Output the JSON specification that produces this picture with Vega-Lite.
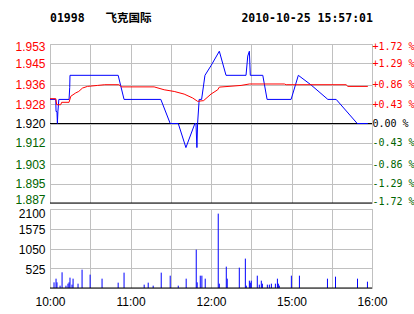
{
  "$schema": "https://vega.github.io/schema/vega-lite/v6.json",
  "background": "#ffffff",
  "padding": {"left": 14, "top": 12, "right": 0, "bottom": 0},
  "bounds": "flush",
  "spacing": 6,
  "datasets": {
    "price": [
      {"t": 0, "p": 1.930}, {"t": 4.3, "p": 1.930}, {"t": 4.5, "p": 1.925}, {"t": 5.2, "p": 1.925},
      {"t": 5.5, "p": 1.920}, {"t": 5.9, "p": 1.925}, {"t": 6.6, "p": 1.930}, {"t": 14.2, "p": 1.930},
      {"t": 14.7, "p": 1.935}, {"t": 14.9, "p": 1.940}, {"t": 50.8, "p": 1.940}, {"t": 55.2, "p": 1.930},
      {"t": 82.6, "p": 1.930}, {"t": 89.6, "p": 1.920}, {"t": 95.6, "p": 1.920}, {"t": 101.3, "p": 1.910},
      {"t": 108.0, "p": 1.920}, {"t": 108.8, "p": 1.920}, {"t": 109.5, "p": 1.910}, {"t": 110.0, "p": 1.920},
      {"t": 111.2, "p": 1.930}, {"t": 113.0, "p": 1.930}, {"t": 114.5, "p": 1.936}, {"t": 115.5, "p": 1.940},
      {"t": 120.0, "p": 1.944}, {"t": 126.2, "p": 1.950}, {"t": 131.2, "p": 1.940}, {"t": 146.1, "p": 1.940},
      {"t": 147.4, "p": 1.948}, {"t": 148.6, "p": 1.950}, {"t": 149.3, "p": 1.940}, {"t": 158.6, "p": 1.940},
      {"t": 161.8, "p": 1.930}, {"t": 179.7, "p": 1.930}, {"t": 185.1, "p": 1.940}, {"t": 194.6, "p": 1.936},
      {"t": 207.1, "p": 1.930}, {"t": 213.3, "p": 1.930}, {"t": 229.0, "p": 1.920}, {"t": 236.9, "p": 1.920}
    ],
    "avg": [
      {"t": 0, "a": 1.9303}, {"t": 4.3, "a": 1.9303}, {"t": 5.0, "a": 1.9278}, {"t": 8.0, "a": 1.9278},
      {"t": 8.7, "a": 1.9288}, {"t": 14.2, "a": 1.9288}, {"t": 15.5, "a": 1.9313}, {"t": 19.2, "a": 1.9327},
      {"t": 21.4, "a": 1.9333}, {"t": 24.2, "a": 1.9347}, {"t": 27.9, "a": 1.9354}, {"t": 35.4, "a": 1.9358},
      {"t": 40.8, "a": 1.9361}, {"t": 51.3, "a": 1.9361}, {"t": 53.5, "a": 1.9352}, {"t": 77.6, "a": 1.9352},
      {"t": 85.1, "a": 1.9340}, {"t": 92.6, "a": 1.9333}, {"t": 100.0, "a": 1.9322}, {"t": 106.3, "a": 1.9306},
      {"t": 110.0, "a": 1.9292}, {"t": 114.5, "a": 1.9295}, {"t": 120.0, "a": 1.9322}, {"t": 125.0, "a": 1.9340},
      {"t": 126.2, "a": 1.9351}, {"t": 142.4, "a": 1.9358}, {"t": 148.6, "a": 1.9364}, {"t": 174.7, "a": 1.9364},
      {"t": 176.0, "a": 1.9361}, {"t": 220.7, "a": 1.9361}, {"t": 222.0, "a": 1.9354}, {"t": 236.9, "a": 1.9354}
    ],
    "refs": [{"y": 1.92}, {"y": 1.887}],
    "vol": [
      {"t": 3.0, "v": 150}, {"t": 4.5, "v": 248}, {"t": 5.2, "v": 150}, {"t": 7.5, "v": 62},
      {"t": 9.0, "v": 417}, {"t": 11.9, "v": 62}, {"t": 13.4, "v": 115}, {"t": 14.2, "v": 150},
      {"t": 14.9, "v": 275}, {"t": 16.4, "v": 89}, {"t": 17.2, "v": 248}, {"t": 20.9, "v": 115},
      {"t": 23.9, "v": 488}, {"t": 29.9, "v": 355}, {"t": 38.8, "v": 248}, {"t": 50.8, "v": 142},
      {"t": 55.2, "v": 408}, {"t": 70.2, "v": 89}, {"t": 73.2, "v": 142}, {"t": 76.9, "v": 62},
      {"t": 82.9, "v": 408}, {"t": 89.6, "v": 328}, {"t": 95.6, "v": 62}, {"t": 101.5, "v": 248},
      {"t": 109.0, "v": 1020}, {"t": 109.7, "v": 150}, {"t": 112.0, "v": 328}, {"t": 113.2, "v": 328},
      {"t": 115.7, "v": 248}, {"t": 125.4, "v": 1977}, {"t": 126.2, "v": 115}, {"t": 131.4, "v": 568},
      {"t": 132.1, "v": 248}, {"t": 141.1, "v": 541}, {"t": 145.6, "v": 781}, {"t": 146.3, "v": 62},
      {"t": 148.6, "v": 195}, {"t": 149.3, "v": 142}, {"t": 150.0, "v": 195}, {"t": 154.5, "v": 328},
      {"t": 156.0, "v": 89}, {"t": 157.5, "v": 195}, {"t": 158.3, "v": 115}, {"t": 162.0, "v": 89},
      {"t": 163.5, "v": 89}, {"t": 165.0, "v": 115}, {"t": 168.0, "v": 115}, {"t": 169.5, "v": 248},
      {"t": 170.2, "v": 115}, {"t": 170.9, "v": 62}, {"t": 179.9, "v": 328}, {"t": 185.9, "v": 328},
      {"t": 206.8, "v": 248}, {"t": 212.8, "v": 301}, {"t": 229.2, "v": 248}, {"t": 236.6, "v": 168}
    ]
  },
  "config": {
    "view": {"stroke": "#c0c0c0", "strokeWidth": 1},
    "axis": {
      "domain": false, "ticks": false, "gridColor": "#c0c0c0", "gridOpacity": 1, "gridWidth": 1,
      "labelFont": "Liberation Sans", "labelFontSize": 12, "labelColor": "#000000", "title": null,
      "labelOverlap": false
    }
  },
  "vconcat": [
    {
      "width": 322,
      "height": 159,
      "title": {
        "text": "01998\u00a0\u00a0\u00a0飞克国际\u00a0\u00a0\u00a0\u00a0\u00a0\u00a0\u00a0\u00a0\u00a0\u00a0\u00a0\u00a0\u00a02010-10-25 15:57:01",
        "anchor": "start", "frame": "group", "font": "DejaVu Sans Mono, Noto Sans CJK SC",
        "fontSize": 11.5, "fontWeight": "bold", "color": "#000000", "offset": 15.5
      },
      "resolve": {"scale": {"y": "independent"}},
      "layer": [
        {
          "data": {"name": "refs"},
          "mark": {"type": "rule", "color": "#000000", "strokeWidth": 1},
          "encoding": {
            "y": {
              "field": "y", "type": "quantitative",
              "scale": {"domain": [1.887, 1.953], "nice": false, "zero": false},
              "axis": {
                "orient": "right", "grid": false, "labelPadding": 0, "tickCount": 12,
                "labelFlush": true, "labelFlushOffset": 3,
                "values": [1.887, 1.895, 1.903, 1.912, 1.92, 1.928, 1.936, 1.945, 1.953],
                "labelFont": "DejaVu Sans Mono", "labelFontSize": 10,
                "labelExpr": "['-1.72 %','-1.29 %','-0.86 %','-0.43 %','\u00a00.00 %','+0.43 %','+0.86 %','+1.29 %','+1.72 %'][indexof([1.887,1.895,1.903,1.912,1.92,1.928,1.936,1.945,1.953], datum.value)]",
                "labelColor": {"condition": [{"test": "datum.value > 1.9201", "value": "#ff0000"}, {"test": "datum.value < 1.9199", "value": "#006400"}], "value": "#000000"}
              }
            }
          }
        },
        {
          "data": {"name": "price"},
          "mark": {"type": "line", "color": "#0000ff", "strokeWidth": 1},
          "encoding": {
            "x": {
              "field": "t", "type": "quantitative",
              "scale": {"domain": [0, 240], "nice": false, "zero": false},
              "axis": {"labels": false, "grid": true, "tickCount": 12, "values": [0, 30, 60, 90, 120, 150, 180, 210, 240]}
            },
            "y": {
              "field": "p", "type": "quantitative",
              "scale": {"domain": [1.887, 1.953], "nice": false, "zero": false},
              "axis": {
                "orient": "left", "grid": true, "labelPadding": 5, "format": ".3f", "tickCount": 12,
                "labelFlush": true, "labelFlushOffset": 3,
                "values": [1.887, 1.895, 1.903, 1.912, 1.92, 1.928, 1.936, 1.945, 1.953],
                "labelColor": {"condition": [{"test": "datum.value > 1.9201", "value": "#ff0000"}, {"test": "datum.value < 1.9199", "value": "#006400"}], "value": "#000000"}
              }
            }
          }
        },
        {
          "data": {"name": "avg"},
          "mark": {"type": "line", "color": "#ff0000", "strokeWidth": 1},
          "encoding": {
            "x": {"field": "t", "type": "quantitative"},
            "y": {
              "field": "a", "type": "quantitative",
              "scale": {"domain": [1.887, 1.953], "nice": false, "zero": false},
              "axis": null
            }
          }
        }
      ]
    },
    {
      "width": 322,
      "height": 79,
      "layer": [
        {
          "data": {"name": "vol"},
          "mark": {"type": "rule", "color": "#0000ff", "strokeWidth": 1},
          "encoding": {
            "x": {
              "field": "t", "type": "quantitative",
              "scale": {"domain": [0, 240], "nice": false, "zero": false},
              "axis": {
                "grid": true, "labelPadding": 8, "labelFlush": false, "tickCount": 12,
                "values": [0, 30, 60, 90, 120, 150, 180, 210, 240],
                "labelExpr": "datum.value == 0 ? '10:00' : datum.value == 60 ? '11:00' : datum.value == 120 ? '12:00' : datum.value == 180 ? '15:00' : datum.value == 240 ? '16:00' : ''"
              }
            },
            "y": {
              "field": "v", "type": "quantitative",
              "scale": {"domain": [0, 2100], "nice": false},
              "axis": {
                "grid": true, "labelPadding": 5, "labelOffset": 1, "format": "d", "tickCount": 10,
                "labelFlush": true, "labelFlushOffset": 2,
                "values": [525, 1050, 1575, 2100]
              }
            },
            "y2": {"datum": 0}
          }
        },
        {
          "data": {"values": [{"z": 0}]},
          "mark": {"type": "rule", "color": "#000000", "strokeWidth": 1},
          "encoding": {"y": {"field": "z", "type": "quantitative"}}
        }
      ]
    }
  ]
}
